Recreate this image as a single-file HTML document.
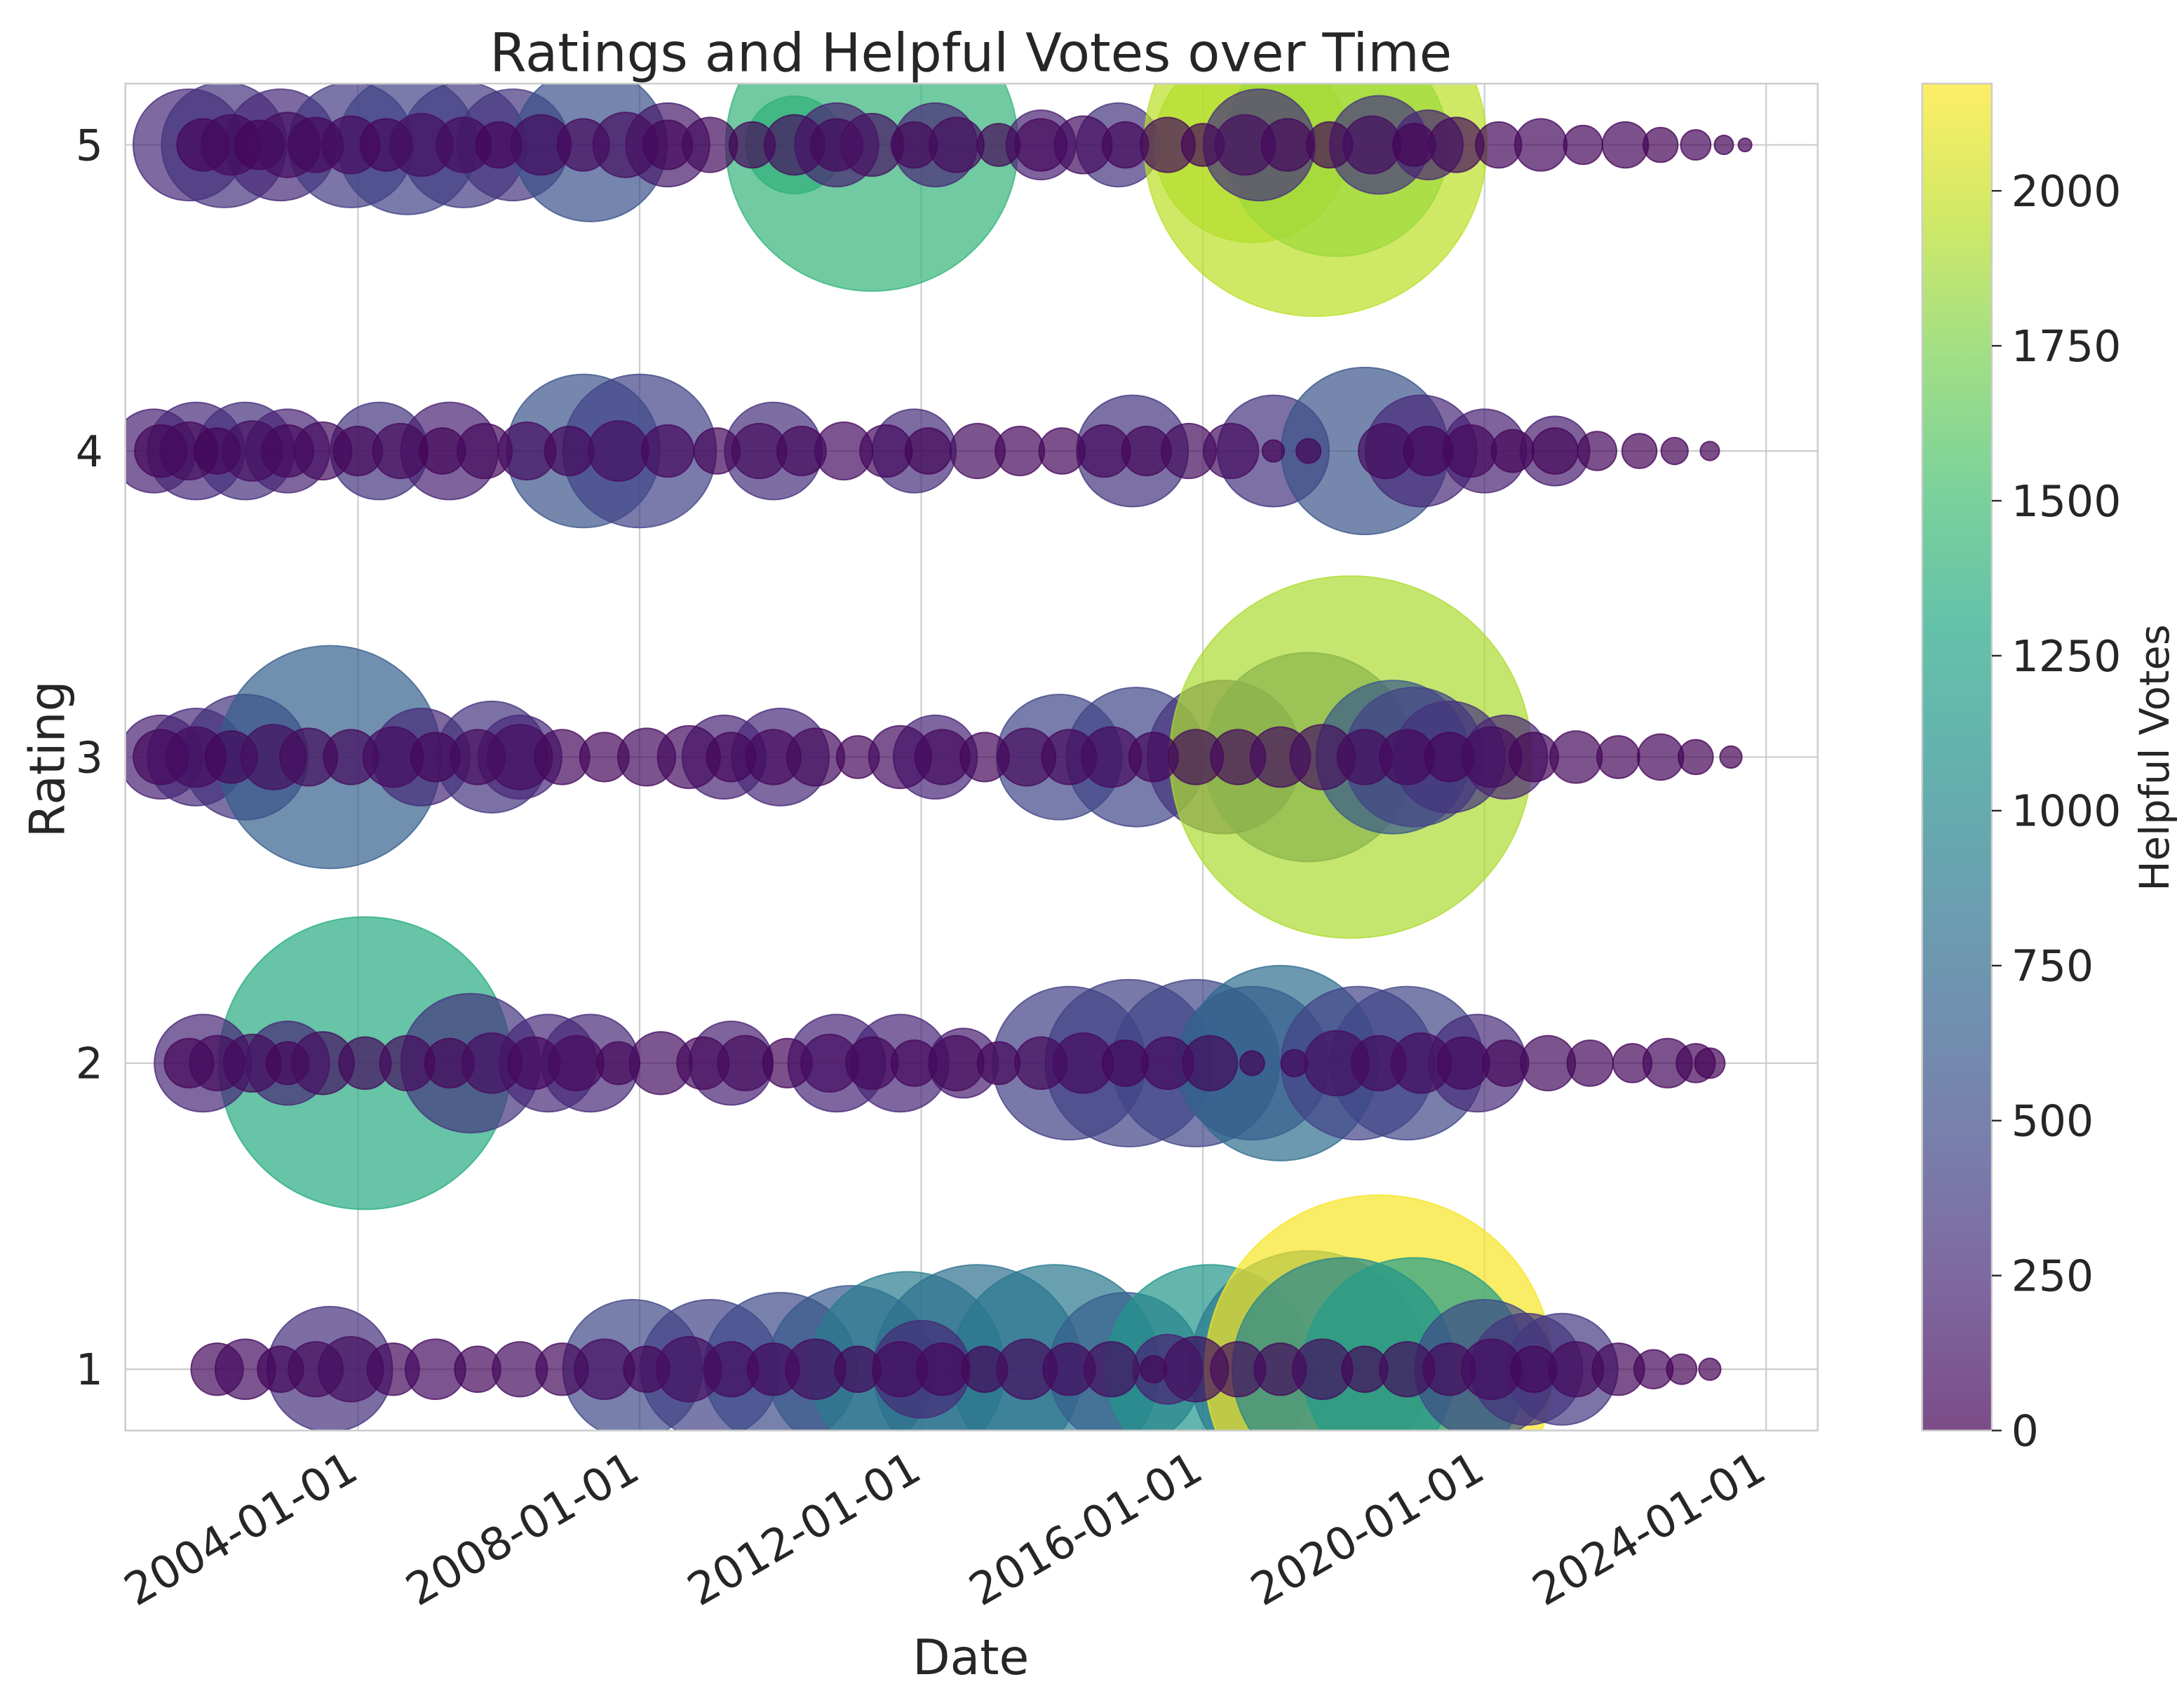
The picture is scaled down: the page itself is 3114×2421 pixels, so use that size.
<!DOCTYPE html>
<html><head><meta charset="utf-8"><style>
html,body{margin:0;padding:0;background:#fff}
svg{display:block}
text{font-family:"DejaVu Sans","Liberation Sans",sans-serif;fill:#262626}
</style></head><body>
<svg id="chart" width="3114" height="2421" viewBox="0 0 1568 1219" xmlns="http://www.w3.org/2000/svg">
<defs>
<clipPath id="plotclip"><rect x="90" y="60" width="1215" height="967"/></clipPath>
<linearGradient id="cbgrad" x1="0" y1="1" x2="0" y2="0"></linearGradient>
</defs>
<rect x="0" y="0" width="1568" height="1219" fill="#fff"/>
<g id="grid"></g>
<g id="marks" clip-path="url(#plotclip)"></g>
<rect x="90" y="60" width="1215" height="967" fill="none" stroke="#cccccc" stroke-width="1.25"/>
<g id="axes"></g>
<text x="697" y="51" font-size="38" text-anchor="middle">Ratings and Helpful Votes over Time</text>
<text x="697" y="1202" font-size="35" text-anchor="middle">Date</text>
<text transform="translate(46,545) rotate(-90)" font-size="35" text-anchor="middle">Rating</text>
<g id="colorbar"></g>
<text transform="translate(1557,544) rotate(-90)" font-size="29" text-anchor="middle">Helpful Votes</text>
</svg>
<script>
// ---- data ----
const dates = [
2001.6,2002.1,2002.9,2003.9,2004.7,2005.5,2006.2,2007.3,2008.4,2010.2,2011.3,2010.8,2012.2,2013.7,2014.8,2016.7,2017.6,2017.9,2016.8,2018.5,2019.2,
2001.8,2002.2,2002.6,2003.0,2003.4,2003.9,2004.4,2004.9,2005.5,2006.0,2006.6,2007.2,2007.8,2008.4,2009.0,2009.6,2010.2,2010.8,2011.3,2011.9,2012.5,2013.1,2013.7,2014.3,2014.9,2015.5,2016.0,2016.6,2017.2,2017.8,2018.4,2019.0,2019.6,2020.2,2020.8,2021.4,2022.0,2022.5,2023.0,2023.4,2023.7,
2001.1,2001.7,2002.4,2003.0,2004.3,2005.3,2007.2,2008.0,2009.9,2011.9,2015.0,2017.0,2018.3,2019.1,2020.0,2021.0,
2001.2,2001.6,2002.0,2002.5,2003.0,2003.5,2004.0,2004.6,2005.2,2005.8,2006.4,2007.0,2007.7,2008.4,2009.1,2009.7,2010.3,2010.9,2011.5,2012.1,2012.8,2013.4,2014.0,2014.6,2015.2,2015.8,2016.4,2017.0,2017.5,2018.6,2019.2,2019.8,2020.4,2021.0,2021.6,2022.2,2022.7,2023.2,
2001.2,2001.7,2002.4,2003.6,2004.9,2005.9,2006.3,2009.2,2010.0,2012.2,2013.96,2015.05,2016.3,2017.5,2018.1,2018.7,2019.0,2019.5,2020.3,
2001.2,2001.7,2002.2,2002.8,2003.3,2003.9,2004.5,2005.1,2005.7,2006.3,2006.9,2007.5,2008.1,2008.7,2009.3,2009.9,2010.5,2011.1,2011.7,2012.3,2012.9,2013.5,2014.1,2014.7,2015.3,2015.9,2016.5,2017.1,2017.7,2018.3,2018.9,2019.5,2020.1,2020.7,2021.3,2021.9,2022.5,2023.0,2023.5,
2004.1,2001.8,2003.0,2005.6,2006.7,2007.3,2009.3,2010.8,2011.7,2012.6,2014.1,2014.95,2015.9,2017.1,2016.7,2018.2,2018.9,2019.9,
2001.6,2002.0,2002.5,2003.0,2003.5,2004.1,2004.7,2005.3,2005.9,2006.5,2007.1,2007.7,2008.3,2008.9,2009.5,2010.1,2010.7,2011.3,2011.9,2012.5,2013.1,2013.7,2014.3,2014.9,2015.5,2016.1,2016.7,2017.3,2017.9,2018.5,2019.1,2019.7,2020.3,2020.9,2021.5,2022.1,2022.6,2023.0,2023.2,
2003.6,2007.9,2009.0,2010.0,2011.0,2011.8,2012.8,2013.9,2014.9,2016.1,2017.5,2018.5,2018.0,2019.0,2020.0,2020.6,2021.1,2012.0,2015.5,
2002.0,2002.4,2002.9,2003.4,2003.9,2004.5,2005.1,2005.7,2006.3,2006.9,2007.5,2008.1,2008.7,2009.3,2009.9,2010.5,2011.1,2011.7,2012.3,2012.9,2013.5,2014.1,2014.7,2015.3,2015.9,2016.5,2017.1,2017.7,2018.3,2018.9,2019.5,2020.1,2020.7,2021.3,2021.9,2022.4,2022.8,2023.2
];
const ratings = [
5,5,5,5,5,5,5,5,5,5,5,5,5,5,5,5,5,5,5,5,5,
5,5,5,5,5,5,5,5,5,5,5,5,5,5,5,5,5,5,5,5,5,5,5,5,5,5,5,5,5,5,5,5,5,5,5,5,5,5,5,5,5,
4,4,4,4,4,4,4,4,4,4,4,4,4,4,4,4,
4,4,4,4,4,4,4,4,4,4,4,4,4,4,4,4,4,4,4,4,4,4,4,4,4,4,4,4,4,4,4,4,4,4,4,4,4,4,
3,3,3,3,3,3,3,3,3,3,3,3,3,3,3,3,3,3,3,
3,3,3,3,3,3,3,3,3,3,3,3,3,3,3,3,3,3,3,3,3,3,3,3,3,3,3,3,3,3,3,3,3,3,3,3,3,3,3,
2,2,2,2,2,2,2,2,2,2,2,2,2,2,2,2,2,2,
2,2,2,2,2,2,2,2,2,2,2,2,2,2,2,2,2,2,2,2,2,2,2,2,2,2,2,2,2,2,2,2,2,2,2,2,2,2,2,
1,1,1,1,1,1,1,1,1,1,1,1,1,1,1,1,1,1,1,
1,1,1,1,1,1,1,1,1,1,1,1,1,1,1,1,1,1,1,1,1,1,1,1,1,1,1,1,1,1,1,1,1,1,1,1,1,1
];
const votes = [
260,320,250,380,430,380,330,540,150,1300,1420,200,230,200,330,1880,1950,1850,300,340,220,
40,60,30,80,50,70,40,90,60,30,70,50,80,40,60,30,70,50,90,40,60,30,50,70,40,60,30,80,50,40,70,30,60,40,50,30,40,20,30,10,5,
200,260,300,220,330,200,560,430,300,280,330,320,560,250,200,180,
40,60,30,80,50,70,40,60,30,50,70,40,80,50,30,60,40,70,50,30,60,40,30,50,40,60,70,20,30,60,40,50,30,40,30,20,15,10,
200,260,320,650,250,330,260,210,260,240,450,450,330,600,1900,600,430,320,230,
50,70,40,80,60,50,70,40,60,80,50,40,60,70,40,50,60,30,70,50,40,60,50,70,40,60,50,70,80,60,50,40,70,40,50,30,40,20,10,
1330,230,240,330,260,250,200,240,240,180,400,420,450,780,640,430,460,270,
40,60,70,30,80,50,60,40,70,50,60,30,80,50,60,40,70,50,40,60,30,50,70,40,50,60,30,40,80,60,70,50,40,60,40,30,50,30,20,
300,470,420,500,600,900,800,870,640,1120,880,2150,1000,1200,480,330,350,250,200,
50,70,40,60,80,50,70,40,60,50,70,40,80,60,50,70,40,60,50,40,70,50,60,40,80,60,50,70,40,60,50,70,40,60,50,30,20,10
];
const sizes = [
206,260,206,260,321,260,206,389,116,157,1416,116,116,80,116,630,1944,822,206,160,80,
45,60,40,70,50,55,45,65,50,35,60,45,70,40,50,35,60,45,65,35,50,30,45,55,35,50,30,60,45,35,55,30,50,35,45,25,35,20,15,6,3,
116,157,157,116,157,157,389,389,157,116,206,206,462,206,116,80,
45,55,35,60,45,55,40,50,35,50,55,40,60,45,35,50,40,55,45,35,50,40,35,45,40,50,50,8,10,50,40,45,30,35,25,20,12,6,
116,157,260,822,157,206,116,116,157,116,260,321,389,723,2171,389,321,206,116,
50,60,45,70,55,50,60,40,50,70,50,40,55,65,40,50,55,30,65,50,40,55,50,60,40,50,50,60,70,50,50,40,60,40,45,30,35,20,8,
1416,157,116,321,157,157,116,157,157,80,389,462,462,630,389,389,389,157,
40,50,55,30,65,45,50,40,60,45,50,30,65,45,50,40,55,45,35,50,30,45,60,35,45,50,10,12,70,50,60,45,35,50,35,25,40,25,15,
260,321,321,389,462,630,723,723,389,723,928,2007,822,822,321,206,206,157,80,
45,60,35,50,70,45,60,35,50,45,60,35,70,50,45,60,35,50,45,35,60,45,50,12,70,50,45,60,35,50,45,60,35,50,45,25,15,8
];
const xTickYears = [2004,2008,2012,2016,2020,2024];
const xTickLabels = ["2004-01-01","2008-01-01","2012-01-01","2016-01-01","2020-01-01","2024-01-01"];
const yTicks = [1,2,3,4,5];
const cbTicks = [0,250,500,750,1000,1250,1500,1750,2000];
const vMax = 2173;

// ---- scales ----
const NS = "http://www.w3.org/2000/svg";
function xs(yr){ return 257 + (yr - 2004) * 50.55; }
function ys(r){ return 104 + (5 - r) * 219.75; }
function rs(s){ return 2.79 * Math.sqrt(s); }
const vir = ["#440154","#482475","#414487","#355f8d","#2a788e","#21918c","#22a884","#44bf70","#7ad151","#bddf26","#fde725"];
function hex(h){ return [parseInt(h.substr(1,2),16),parseInt(h.substr(3,2),16),parseInt(h.substr(5,2),16)]; }
function viridis(t){
  t = Math.max(0, Math.min(1, t));
  const p = t * 10, i = Math.min(9, Math.floor(p)), f = p - i;
  const a = hex(vir[i]), b = hex(vir[i+1]);
  return "rgb(" + a.map((v,k)=>Math.round(v + (b[k]-v)*f)).join(",") + ")";
}
function mk(tag, attrs, parent){
  const e = document.createElementNS(NS, tag);
  for (const k in attrs) e.setAttribute(k, attrs[k]);
  parent.appendChild(e);
  return e;
}

// ---- grid ----
const grid = document.getElementById("grid");
xTickYears.forEach(y => {
  const l = mk("line", {x1:xs(y), x2:xs(y), y1:60, y2:1027, stroke:"#cccccc", "stroke-width":1.1}, grid);
  
  
});
yTicks.forEach(r => {
  const l = mk("line", {x1:90, x2:1305, y1:ys(r), y2:ys(r), stroke:"#cccccc", "stroke-width":1.1}, grid);
  
  
});

// ---- marks ----
const marks = document.getElementById("marks");
for (let i = 0; i < dates.length; i++) {
  const c = viridis(votes[i] / vMax);
  const el = mk("circle", {cx:xs(dates[i]), cy:ys(ratings[i]), r:rs(sizes[i]), fill:c, "fill-opacity":0.7, stroke:c, "stroke-opacity":0.75, "stroke-width":1}, marks);
  
  
}

// ---- axes labels ----
const axes = document.getElementById("axes");
xTickYears.forEach((y, i) => {
  const t = mk("text", {transform:"translate(" + (xs(y)-10) + ",1040) rotate(-30)", "font-size":32, "text-anchor":"end", "dominant-baseline":"hanging"}, axes);
  t.textContent = xTickLabels[i];
  
  
});
yTicks.forEach(r => {
  const t = mk("text", {x:74, y:ys(r)+11, "font-size":31, "text-anchor":"end"}, axes);
  t.textContent = r;
  
  
});

// ---- colorbar ----
const grad = document.getElementById("cbgrad");
vir.forEach((c, i) => { mk("stop", {offset:(i/10).toFixed(3), "stop-color":c}, grad); });
const cb = document.getElementById("colorbar");
const cbTop = 60, cbBot = 1027, cbX = 1380, cbW = 50;
const bar = mk("rect", {x:cbX, y:cbTop, width:cbW, height:cbBot-cbTop, fill:"url(#cbgrad)", "fill-opacity":0.7, stroke:"#cccccc", "stroke-width":1.2}, cb);


function cby(v){ return cbBot - v / vMax * (cbBot - cbTop); }
cbTicks.forEach(v => {
  const tk = mk("line", {x1:cbX+cbW, x2:cbX+cbW+7, y1:cby(v), y2:cby(v), stroke:"#262626", "stroke-width":1.2}, cb);
  
  
  const t = mk("text", {x:cbX+cbW+14, y:cby(v)+11, "font-size":31}, cb);
  t.textContent = v;
  
  
});
</script>
</body></html>
